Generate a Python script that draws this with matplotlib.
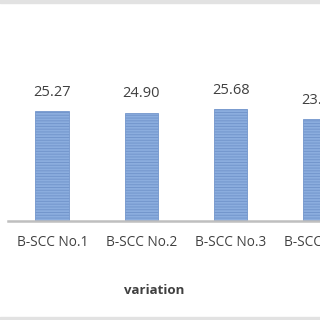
import numpy as np
import matplotlib.pyplot as plt
from matplotlib.patches import Rectangle

categories = ['B-SCC No.1', 'B-SCC No.2', 'B-SCC No.3', 'B-SCC No.4']
values = [25.27, 24.90, 25.68, 23.45]
xlabel = 'variation'

plt.rcParams['font.family'] = ['Open Sans', 'DejaVu Sans']
plt.rcParams['hatch.color'] = '#6b8fc8'
plt.rcParams['hatch.linewidth'] = 0.7

fig = plt.figure(figsize=(3.2, 3.2), dpi=100)
# axes: left 8px, right beyond edge, baseline at y=221px, top at y=20px
ax = fig.add_axes([8 / 320, (320 - 221) / 320, 312 / 320, 201 / 320])

x = np.arange(len(categories))
bars = ax.bar(x, values, width=0.374, color='#8badde', edgecolor='#7396cc',
              linewidth=0.6, hatch='------')

for xi, v in zip(x, values):
    ax.text(xi, v + 2.6, '%.2f' % v, ha='center', va='bottom',
            fontsize=10.5, color='#404040', clip_on=False)

ax.set_xlim(-0.495, 2.934)
ax.set_ylim(0, 201 / 4.35)
ax.set_xticks(x)
ax.set_xticklabels(categories, fontsize=9.8, color='#404040')
ax.tick_params(axis='x', length=0, pad=10)
ax.set_yticks([])
for s in ['top', 'right', 'left']:
    ax.spines[s].set_visible(False)
ax.spines['bottom'].set_color('#bfbfbf')
ax.spines['bottom'].set_linewidth(1.8)

fig.text(154 / 320, 1 - 291 / 320, xlabel, ha='center', va='center',
         fontsize=9.5, fontweight='bold', color='#404040')

# light grey bands at top and bottom edges of the picture
fig.patches.append(Rectangle((0, 1 - 3 / 320), 1, 3 / 320, transform=fig.transFigure,
                             color='#e2e2e2', zorder=0))
fig.patches.append(Rectangle((0, 0), 1, 3 / 320, transform=fig.transFigure,
                             color='#e2e2e2', zorder=0))

fig.savefig('out.png', dpi=100)
